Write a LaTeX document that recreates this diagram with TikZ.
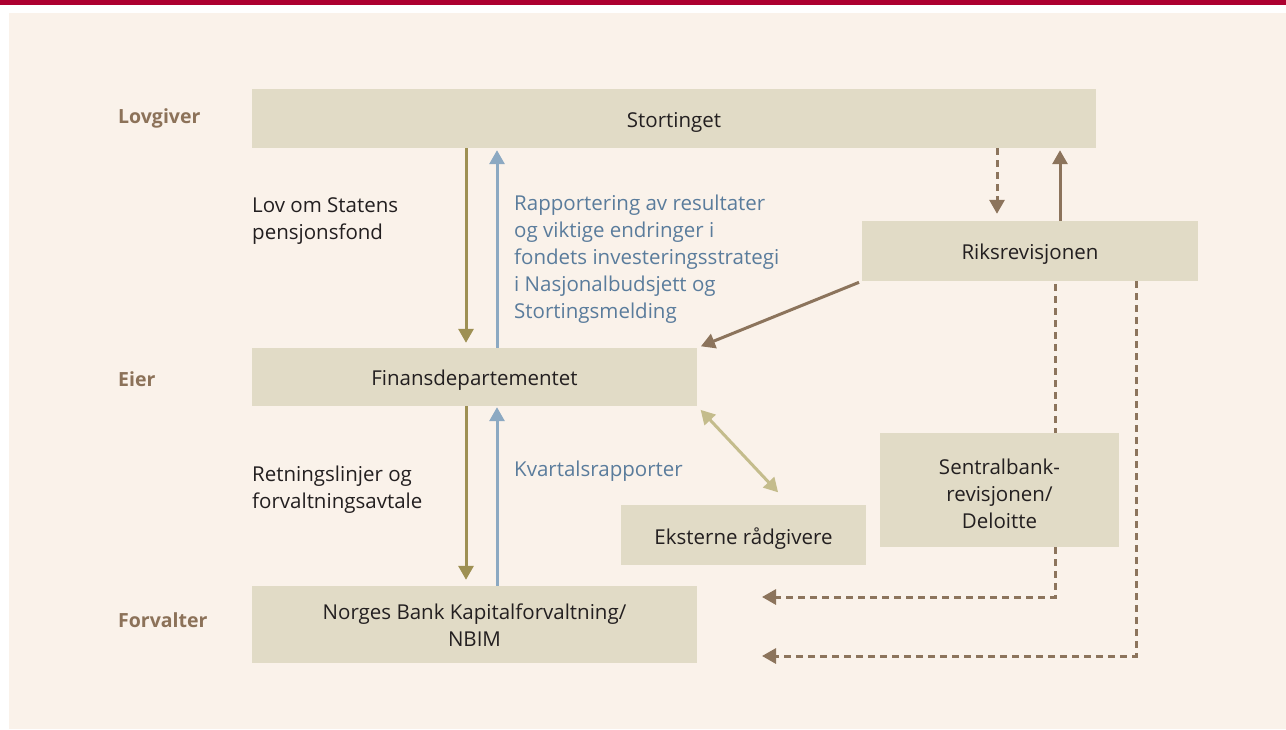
\documentclass[tikz,border=0pt]{standalone}
\usepackage{fontspec}
\setmainfont{Open Sans}
\usetikzlibrary{arrows.meta,calc}
\definecolor{redbar}{HTML}{AD0030}
\definecolor{cream}{HTML}{FAF2EA}
\definecolor{boxfill}{HTML}{E1DBC6}
\definecolor{txt}{HTML}{231F20}
\definecolor{catcol}{HTML}{8C7259}
\definecolor{olivec}{HTML}{9E9053}
\definecolor{bluec}{HTML}{8CA9C2}
\definecolor{bluetxt}{HTML}{5A7C9C}
\definecolor{brownc}{HTML}{8C745C}
\definecolor{lightol}{HTML}{C4BC8C}
\tikzset{
  box/.style={fill=boxfill,draw=none,inner sep=0pt},
  boxtext/.style={text=txt,align=center,inner sep=0pt,yshift=-3.5pt,font=\fontsize{20.5}{27}\selectfont},
  cat/.style={text=catcol,font=\fontsize{19.5}{27}\selectfont\bfseries,anchor=base west,inner sep=0pt},
  lbl/.style={text=txt,align=left,anchor=north west,inner sep=0pt,font=\fontsize{20.5}{27}\selectfont},
  bluelbl/.style={lbl,text=bluetxt},
  tip/.style={-{Triangle[width=15pt,length=14pt]}},
  conn/.style={line width=3pt,tip},
  oliveline/.style={conn,draw=olivec},
  blueline/.style={conn,draw=bluec},
  brownline/.style={conn,draw=brownc},
  dashline/.style={brownline,dash pattern=on 7pt off 5pt},
}
\begin{document}
\begin{tikzpicture}[x=1pt,y=-1pt]
\useasboundingbox (0,0) rectangle (1286,729);
\fill[white] (0,0) rectangle (1286,729);
\fill[redbar] (0,0) rectangle (1286,5);
\fill[cream] (9,13) rectangle (1286,729);

% category labels
\node[cat] (lov) at (118,123) {Lovgiver};
\node[cat] (eier) at (118,386) {Eier};
\node[cat] (forv) at (118,627) {Forvalter};

% boxes
\node[box,minimum width=844pt,minimum height=59pt,label={[boxtext]center:Stortinget}] (stort) at (674,118.5) {};
\node[box,minimum width=336pt,minimum height=60pt,label={[boxtext]center:Riksrevisjonen}] (riks) at (1030,251) {};
\node[box,minimum width=445pt,minimum height=58pt,label={[boxtext]center:Finansdepartementet}] (fin) at (474.5,377) {};
\node[box,minimum width=245pt,minimum height=60pt,label={[boxtext]center:Eksterne rådgivere}] (ekst) at (743.5,535) {};
\node[box,minimum width=239pt,minimum height=114pt,label={[boxtext]center:{Sentralbank-\\revisjonen/\\Deloitte}}] (sent) at (999.5,490) {};
\node[box,minimum width=445pt,minimum height=77pt,label={[boxtext,yshift=2.5pt]center:{Norges Bank Kapitalforvaltning/\\NBIM}}] (nbim) at (474.5,624.5) {};

% text labels
\node[lbl] (t1) at (252,197) {Lov om Statens\\pensjonsfond};
\node[bluelbl] (t2) at (514,195) {Rapportering av resultater\\og viktige endringer i\\fondets investeringsstrategi\\i Nasjonalbudsjett og\\Stortingsmelding};
\node[lbl] (t3) at (252,466) {Retningslinjer og\\forvaltningsavtale};
\node[bluelbl] (t4) at (514,461) {Kvartalsrapporter};

% x reference coordinates
\coordinate (xa) at (466,0);
\coordinate (xb) at (497,0);
\coordinate (xc) at (997,0);
\coordinate (xd) at (1060,0);
\coordinate (xe) at (1055,0);
\coordinate (xf) at (1136,0);
\coordinate (xg) at (762,0);
\coordinate (ya) at (0,597);
\coordinate (yb) at (0,656);

% vertical arrows
\draw[oliveline,shorten >=5pt] (stort.south -| xa) -- (fin.north -| xa);
\draw[blueline,shorten >=2pt] (fin.north -| xb) -- (stort.south -| xb);
\draw[oliveline,shorten >=6pt] (fin.south -| xa) -- (nbim.north -| xa);
\draw[blueline,shorten >=1pt] (nbim.north -| xb) -- (fin.south -| xb);

\draw[dashline,shorten >=7pt] (stort.south -| xc) -- (riks.north -| xc);
\draw[brownline,shorten >=2pt] (riks.north -| xd) -- (stort.south -| xd);

\draw[brownline,shorten <=3pt,shorten >=4pt] (riks.south west) -- (fin.north east);
\draw[line width=3pt,draw=lightol,{Triangle[width=15pt,length=14pt]}-{Triangle[width=15pt,length=14pt]},shorten <=5pt,shorten >=2pt] (fin.south east) -- ($(ekst.north)+(36,-11)$);

% dashed audit lines
\draw[brownc,line width=3pt,dash pattern=on 7pt off 5pt,shorten <=3pt] (riks.south -| xe) -- (sent.north -| xe);
\draw[dashline] (sent.south -| xe) -- (ya -| xe) -- (ya -| xg);
\draw[dashline] (riks.south -| xf) -- (yb -| xf) -- (yb -| xg);
\end{tikzpicture}
\end{document}
